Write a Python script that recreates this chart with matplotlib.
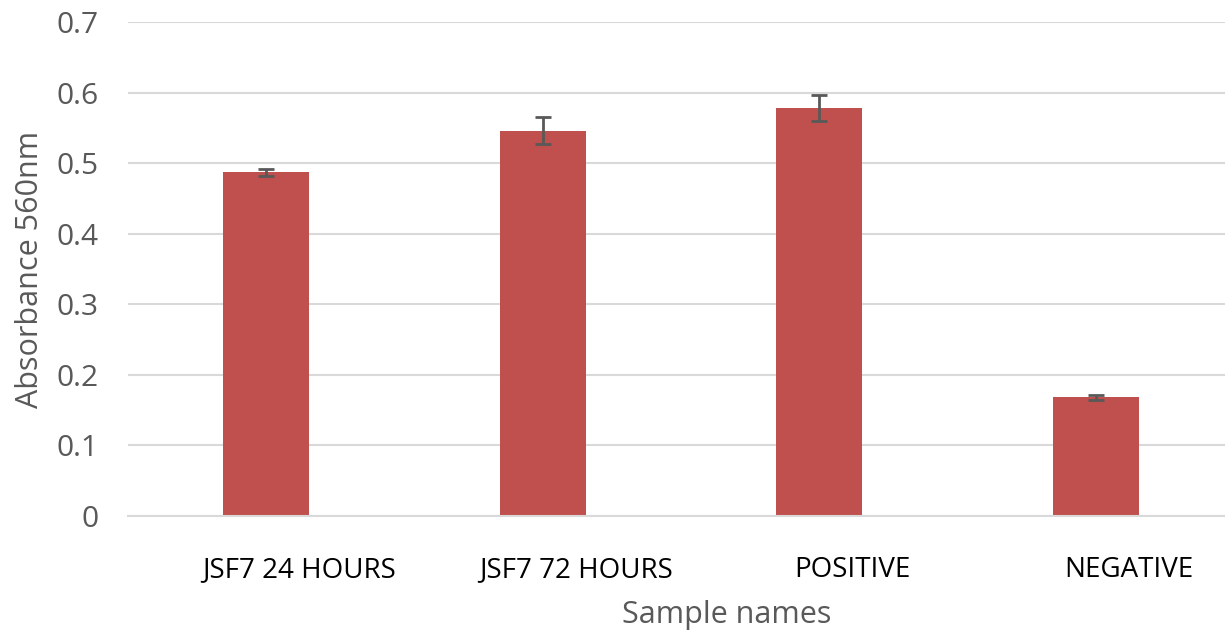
import numpy as np
import matplotlib.pyplot as plt
import matplotlib.transforms as mtransforms

# Sample data
samples = ["JSF7 24 HOURS", "JSF7 72 HOURS", "POSITIVE", "NEGATIVE"]
absorbance = [0.487, 0.546, 0.578, 0.168]
errors = [0.005, 0.019, 0.018, 0.003]

bar_color = "#C0504D"
grid_color = "#D9D9D9"
text_grey = "#595959"

plt.rcParams["font.family"] = ["Open Sans", "DejaVu Sans"]

fig = plt.figure(figsize=(12.25, 6.34), dpi=100)
ax = fig.add_axes([128 / 1225, 1 - 516 / 634, 1097 / 1225, 494 / 634])

x = np.arange(len(samples))
ax.bar(x, absorbance, width=0.31, color=bar_color, zorder=2)
ax.errorbar(x, absorbance, yerr=errors, fmt="none", ecolor=text_grey,
            elinewidth=2.0, capsize=6, capthick=2.0, zorder=3)

ax.set_xlim(-0.5, -0.5 + 1097 / 276.5)
ax.set_ylim(0, 0.7)
ax.set_yticks(np.arange(0, 0.71, 0.1))
ax.set_yticklabels(["0", "0.1", "0.2", "0.3", "0.4", "0.5", "0.6", "0.7"])
ax.grid(axis="y", color=grid_color, linewidth=1.5, zorder=0)
ax.set_axisbelow(True)

for s in ["top", "right", "left"]:
    ax.spines[s].set_visible(False)
ax.spines["bottom"].set_color(grid_color)
ax.spines["bottom"].set_linewidth(1.5)

ax.tick_params(axis="y", length=0, pad=21, labelsize=21.5, labelcolor=text_grey)
ax.tick_params(axis="x", length=0, pad=29, labelsize=20, labelcolor="black")
ax.set_xticks(x)
ax.set_xticklabels(samples)

# labels sit a bit to the right of the bars in the original
offset = mtransforms.ScaledTranslation(33 / 100, 0, fig.dpi_scale_trans)
for lbl in ax.get_xticklabels():
    lbl.set_transform(lbl.get_transform() + offset)

ax.set_ylabel("Absorbance 560nm", fontsize=22, color=text_grey)
ax.yaxis.set_label_coords((45 - 128) / 1097, 0.5)
ax.set_xlabel("Sample names", fontsize=22, color=text_grey)
ax.xaxis.set_label_coords((727 - 128) / 1097, -(600 - 516) / 494)

fig.savefig("out.png", dpi=100)
